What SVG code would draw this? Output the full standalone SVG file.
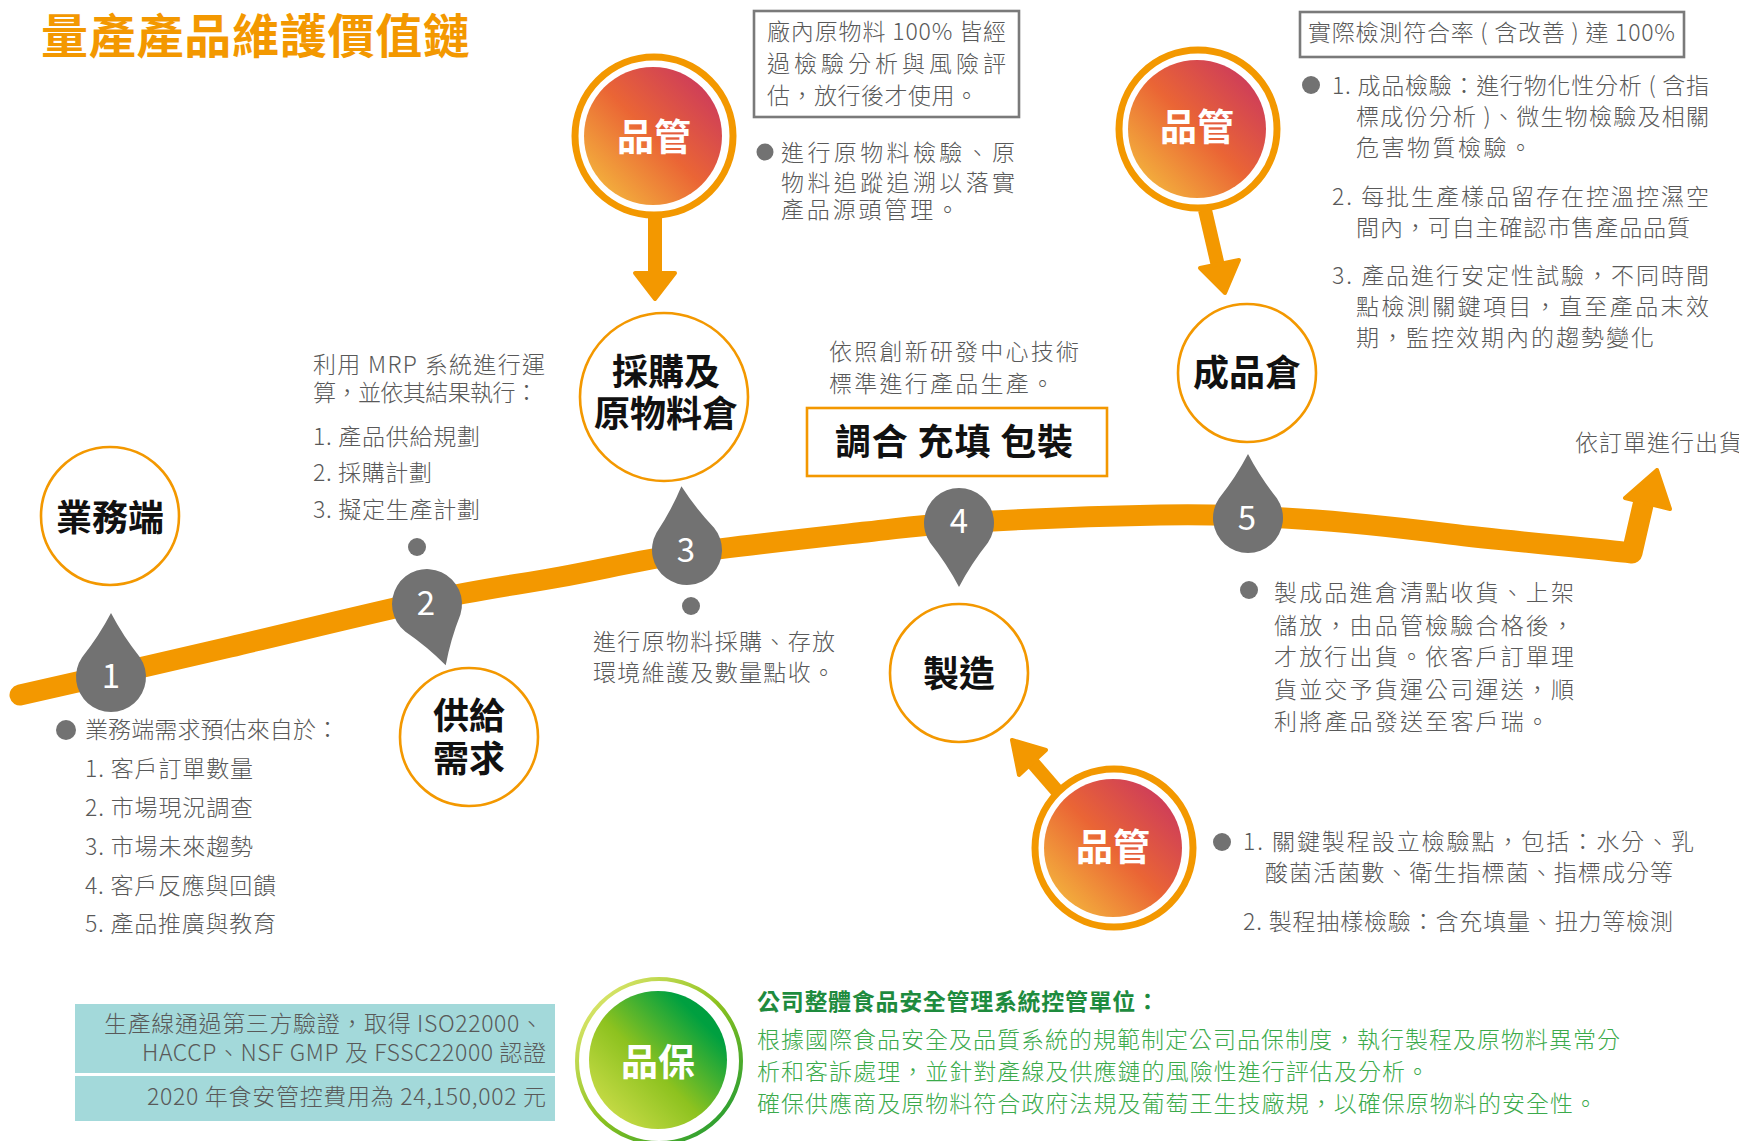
<svg xmlns="http://www.w3.org/2000/svg" width="1739" height="1141" viewBox="0 0 1739 1141">
<defs>
<style>
text{font-family:'Noto Sans CJK TC','Noto Sans',sans-serif;}
.t{font-size:23px;fill:#595959;font-weight:300;}
.lbl{font-size:36px;font-weight:bold;fill:#111;text-anchor:middle;}
.qc{font-size:37px;font-weight:bold;fill:#fff;text-anchor:middle;}
.num{font-size:33px;fill:#fff;text-anchor:middle;}
.node{fill:#fff;stroke:#F39800;stroke-width:2.6;}
.ring{fill:#fff;stroke:#F39800;stroke-width:7;}
.pin{fill:#727272;}
.dot{fill:#727272;}
.arr{fill:#F39800;stroke:#F39800;stroke-width:4;stroke-linejoin:round;}
.gb{fill:#3BAA4B;font-size:23px;font-weight:300;}
</style>
<linearGradient id="gq" x1="0" y1="1" x2="1" y2="0">
<stop offset="0" stop-color="#F6C73F"/>
<stop offset="0.5" stop-color="#EA6535"/>
<stop offset="1" stop-color="#C42F66"/>
</linearGradient>
<linearGradient id="gg" x1="0" y1="1" x2="1" y2="0">
<stop offset="0" stop-color="#DCE455"/>
<stop offset="0.45" stop-color="#8DC21F"/>
<stop offset="0.8" stop-color="#00A040"/>
<stop offset="1" stop-color="#009A3E"/>
</linearGradient>
<linearGradient id="gr" x1="0" y1="0" x2="1" y2="1">
<stop offset="0" stop-color="#F0EF80"/>
<stop offset="0.5" stop-color="#8DC21F"/>
<stop offset="1" stop-color="#0E9438"/>
</linearGradient>
<path id="pinshape" d="M0,-64 Q12,-41 28.9,-19.8 A35,35 0 1,1 -28.9,-19.8 Q-12,-41 0,-64 Z"/>
</defs>

<text x="41" y="53" font-size="47" font-weight="bold" fill="#F39800" textLength="429" lengthAdjust="spacing">量產產品維護價值鏈</text>

<g id="connectors">
<path d="M20,695 C55,687 162,663 230,647 C298,631 371,613 426,601 C481,589 516,585 560,577 C604,569 636,561 687,553 C738,546 821,537 866,532 C911,527 910,526 959,523 C1008,520 1103,516 1160,515 C1217,514 1252,516 1300,519 C1348,522 1394,527 1450,534 C1506,541 1590,548 1632,553 L1643,505" fill="none" stroke="#F39800" stroke-width="21" stroke-linecap="round" stroke-linejoin="round"/>
<polygon class="arr" points="1657,470 1625,498 1670,509"/>
<g id="arrow-qc1">
<rect x="648" y="215" width="14" height="58" fill="#F39800"/>
<polygon class="arr" points="635,273 675,273 655,299"/>
</g>
<g id="arrow-qc2">
<line x1="1205" y1="210" x2="1218" y2="266" stroke="#F39800" stroke-width="14"/>
<polygon class="arr" points="1200,268 1239,260 1225,293"/>
</g>
<g id="arrow-qc3">
<line x1="1058" y1="792" x2="1032" y2="762" stroke="#F39800" stroke-width="14"/>
<polygon class="arr" points="1012,740 1046,750 1019,775"/>
</g>
</g>

<g id="node-sales">
<circle class="node" cx="110" cy="516" r="69"/>
<text class="lbl" x="110" y="531">業務端</text>
</g>
<g id="node-supply">
<circle class="node" cx="469" cy="737" r="69"/>
<text class="lbl"><tspan x="469" y="729">供給</tspan><tspan x="469" y="772">需求</tspan></text>
</g>
<g id="node-purchase">
<circle class="node" cx="664" cy="397" r="84"/>
<text class="lbl"><tspan x="666" y="385">採購及</tspan><tspan x="666" y="427">原物料倉</tspan></text>
</g>
<g id="node-make">
<circle class="node" cx="959" cy="673" r="69"/>
<text class="lbl" x="959" y="687">製造</text>
</g>
<g id="node-fg">
<circle class="node" cx="1247" cy="373" r="69"/>
<text class="lbl" x="1247" y="386">成品倉</text>
</g>
<g id="node-blend">
<rect x="807" y="408" width="300" height="68" fill="#fff" stroke="#F39800" stroke-width="2.6"/>
<text x="835" y="455" font-size="36" font-weight="bold" fill="#111" textLength="238" lengthAdjust="spacing">調合 充填 包裝</text>
</g>

<g id="pin-1">
<use href="#pinshape" class="pin" transform="translate(111,677)"/>
<text class="num" x="111" y="688">1</text>
</g>
<g id="pin-2">
<use href="#pinshape" class="pin" transform="translate(427,604) rotate(163)"/>
<circle class="dot" cx="417" cy="547" r="9"/>
<text class="num" x="426" y="615">2</text>
</g>
<g id="pin-3">
<use href="#pinshape" class="pin" transform="translate(687,550) rotate(-5)"/>
<circle class="dot" cx="691" cy="606" r="9"/>
<text class="num" x="686" y="562">3</text>
</g>
<g id="pin-4">
<use href="#pinshape" class="pin" transform="translate(959,523) rotate(180)"/>
<text class="num" x="959" y="533">4</text>
</g>
<g id="pin-5">
<use href="#pinshape" class="pin" transform="translate(1248,518)"/>
<text class="num" x="1247" y="530">5</text>
</g>

<g id="qc-1">
<circle class="ring" cx="654" cy="136" r="79"/>
<circle cx="653" cy="136" r="69" fill="url(#gq)"/>
<text class="qc" x="654" y="151">品管</text>
</g>
<g id="qc-2">
<circle class="ring" cx="1198" cy="129" r="79"/>
<circle cx="1197" cy="129" r="69" fill="url(#gq)"/>
<text class="qc" x="1197" y="141">品管</text>
</g>
<g id="qc-3">
<circle class="ring" cx="1114" cy="848" r="79"/>
<circle cx="1113" cy="848" r="69" fill="url(#gq)"/>
<text class="qc" x="1113" y="861">品管</text>
</g>
<g id="qa">
<circle cx="659" cy="1061" r="82" fill="#fff" stroke="url(#gr)" stroke-width="4"/>
<circle cx="658" cy="1060" r="69" fill="url(#gg)"/>
<text class="qc" x="658" y="1076">品保</text>
</g>

<g id="note-qc1-box">
<rect x="754" y="11" width="265" height="106" fill="#fff" stroke="#7A7A7A" stroke-width="2.6"/>
<text class="t"><tspan x="767" y="40" textLength="239" lengthAdjust="spacing">廠內原物料 100% 皆經</tspan><tspan x="767" y="72" textLength="239" lengthAdjust="spacing">過檢驗分析與風險評</tspan><tspan x="767" y="104" textLength="211" lengthAdjust="spacing">估，放行後才使用。</tspan></text>
</g>
<g id="note-qc1">
<circle class="dot" cx="765" cy="152" r="8.5"/>
<text class="t"><tspan x="781" y="161" textLength="234" lengthAdjust="spacing">進行原物料檢驗、原</tspan><tspan x="781" y="191" textLength="234" lengthAdjust="spacing">物料追蹤追溯以落實</tspan><tspan x="781" y="218" textLength="178" lengthAdjust="spacing">產品源頭管理。</tspan></text>
</g>

<g id="note-qc2-box">
<rect x="1300" y="12" width="384" height="45" fill="#fff" stroke="#7A7A7A" stroke-width="2.6"/>
<text class="t" x="1308" y="41" textLength="367" lengthAdjust="spacing">實際檢測符合率 ( 含改善 ) 達 100%</text>
</g>
<g id="note-qc2">
<circle class="dot" cx="1311" cy="85" r="9"/>
<text class="t"><tspan x="1332" y="94" textLength="377" lengthAdjust="spacing">1. 成品檢驗：進行物化性分析 ( 含指</tspan><tspan x="1356" y="125" textLength="353" lengthAdjust="spacing">標成份分析 )、微生物檢驗及相關</tspan><tspan x="1356" y="156" textLength="176" lengthAdjust="spacing">危害物質檢驗。</tspan><tspan x="1332" y="205" textLength="377" lengthAdjust="spacing">2. 每批生產樣品留存在控溫控濕空</tspan><tspan x="1356" y="236" textLength="334" lengthAdjust="spacing">間內，可自主確認市售產品品質</tspan><tspan x="1332" y="284" textLength="377" lengthAdjust="spacing">3. 產品進行安定性試驗，不同時間</tspan><tspan x="1356" y="315" textLength="353" lengthAdjust="spacing">點檢測關鍵項目，直至產品末效</tspan><tspan x="1356" y="346" textLength="298" lengthAdjust="spacing">期，監控效期內的趨勢變化</tspan></text>
</g>

<g id="note-mrp">
<text class="t"><tspan x="313" y="373" textLength="232" lengthAdjust="spacing">利用 MRP 系統進行運</tspan><tspan x="313" y="401" textLength="225" lengthAdjust="spacing">算，並依其結果執行：</tspan><tspan x="313" y="445" textLength="167" lengthAdjust="spacing">1. 產品供給規劃</tspan><tspan x="313" y="481" textLength="119" lengthAdjust="spacing">2. 採購計劃</tspan><tspan x="313" y="518" textLength="167" lengthAdjust="spacing">3. 擬定生產計劃</tspan></text>
</g>

<g id="note-sales">
<circle class="dot" cx="66" cy="730" r="10"/>
<text class="t"><tspan x="85" y="738" textLength="254" lengthAdjust="spacing">業務端需求預估來自於：</tspan><tspan x="85" y="777" textLength="168" lengthAdjust="spacing">1. 客戶訂單數量</tspan><tspan x="85" y="816" textLength="168" lengthAdjust="spacing">2. 市場現況調查</tspan><tspan x="85" y="855" textLength="168" lengthAdjust="spacing">3. 市場未來趨勢</tspan><tspan x="85" y="894" textLength="191" lengthAdjust="spacing">4. 客戶反應與回饋</tspan><tspan x="85" y="932" textLength="191" lengthAdjust="spacing">5. 產品推廣與教育</tspan></text>
</g>

<g id="note-purchase">
<text class="t"><tspan x="593" y="650" textLength="242" lengthAdjust="spacing">進行原物料採購、存放</tspan><tspan x="593" y="681" textLength="242" lengthAdjust="spacing">環境維護及數量點收。</tspan></text>
</g>

<g id="note-rd">
<text class="t"><tspan x="829" y="360" textLength="250" lengthAdjust="spacing">依照創新研發中心技術</tspan><tspan x="829" y="392" textLength="225" lengthAdjust="spacing">標準進行產品生產。</tspan></text>
</g>

<g id="note-fg">
<circle class="dot" cx="1249" cy="590" r="9"/>
<text class="t"><tspan x="1274" y="601" textLength="300" lengthAdjust="spacing">製成品進倉清點收貨、上架</tspan><tspan x="1274" y="634" textLength="300" lengthAdjust="spacing">儲放，由品管檢驗合格後，</tspan><tspan x="1274" y="665" textLength="300" lengthAdjust="spacing">才放行出貨。依客戶訂單理</tspan><tspan x="1274" y="698" textLength="300" lengthAdjust="spacing">貨並交予貨運公司運送，順</tspan><tspan x="1274" y="730" textLength="275" lengthAdjust="spacing">利將產品發送至客戶瑞。</tspan></text>
</g>

<text class="t" x="1575" y="451" letter-spacing="1">依訂單進行出貨</text>

<g id="note-qc3">
<circle class="dot" cx="1222" cy="842" r="9"/>
<text class="t"><tspan x="1243" y="850" textLength="451" lengthAdjust="spacing">1. 關鍵製程設立檢驗點，包括：水分、乳</tspan><tspan x="1265" y="881" textLength="408" lengthAdjust="spacing">酸菌活菌數、衛生指標菌、指標成分等</tspan><tspan x="1243" y="930" textLength="430" lengthAdjust="spacing">2. 製程抽樣檢驗：含充填量、扭力等檢測</tspan></text>
</g>

<g id="cert">
<rect x="75" y="1004" width="480" height="69" fill="#A3D9DA"/>
<rect x="75" y="1076" width="480" height="45" fill="#A3D9DA"/>
<text class="t"><tspan x="104" y="1032" textLength="439" lengthAdjust="spacing">生產線通過第三方驗證，取得 ISO22000、</tspan><tspan x="142" y="1061" textLength="404" lengthAdjust="spacing">HACCP、NSF GMP 及 FSSC22000 認證</tspan></text>
<text class="t" x="147" y="1105" textLength="399" lengthAdjust="spacing">2020 年食安管控費用為 24,150,002 元</text>
</g>

<g id="note-qa">
<text x="757" y="1010" font-size="23" font-weight="bold" fill="#1E8B3E" textLength="402" lengthAdjust="spacing">公司整體食品安全管理系統控管單位：</text>
<text class="gb"><tspan x="757" y="1048" textLength="863" lengthAdjust="spacing">根據國際食品安全及品質系統的規範制定公司品保制度，執行製程及原物料異常分</tspan><tspan x="757" y="1080" textLength="672" lengthAdjust="spacing">析和客訴處理，並針對產線及供應鏈的風險性進行評估及分析。</tspan><tspan x="757" y="1112" textLength="840" lengthAdjust="spacing">確保供應商及原物料符合政府法規及葡萄王生技廠規，以確保原物料的安全性。</tspan></text>
</g>
</svg>
